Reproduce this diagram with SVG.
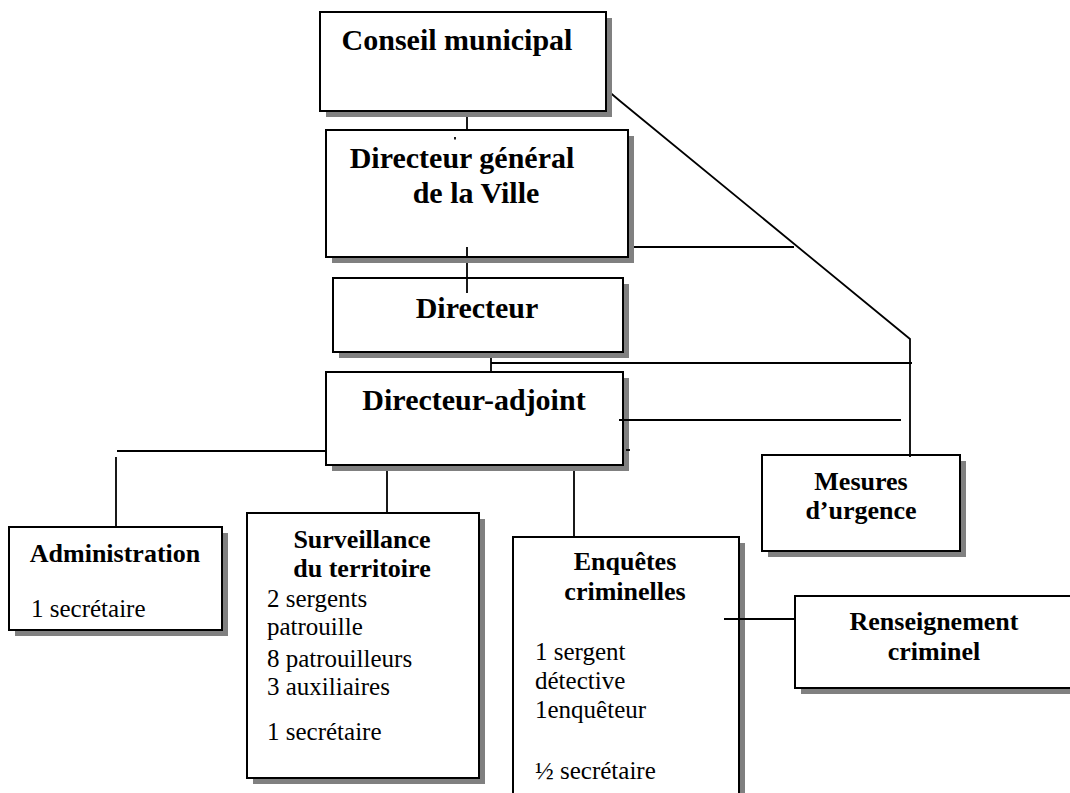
<svg xmlns="http://www.w3.org/2000/svg" width="1070" height="793" viewBox="0 0 1070 793">
<style>
.sh{fill:#808080;stroke:none}
.bx{fill:#fff;stroke:#000;stroke-width:2}
.t1{font-family:"Liberation Serif","Times New Roman",serif;font-weight:bold;font-size:30px;text-anchor:middle;fill:#000}
.t2{font-family:"Liberation Serif","Times New Roman",serif;font-weight:bold;font-size:26px;text-anchor:middle;fill:#000}
.b{font-family:"Liberation Serif","Times New Roman",serif;font-size:25px;fill:#000}
.ln{stroke:#000;stroke-width:1.8;fill:none}
</style>
<rect width="1070" height="793" fill="#fff"/>
<g id="connectors">
<line class="ln" x1="467" y1="111" x2="467" y2="130"/>
<line class="ln" x1="467" y1="247" x2="467" y2="293"/>
<polyline class="ln" points="607,90 620,101 910,339 910,457"/>
<line class="ln" x1="628" y1="247" x2="794" y2="247"/>
<line class="ln" x1="491" y1="352" x2="491" y2="372"/>
<line class="ln" x1="491" y1="363" x2="912" y2="363"/>
<line class="ln" x1="117" y1="451" x2="327" y2="451"/>
<line class="ln" x1="116" y1="457" x2="116" y2="527"/>
<line class="ln" x1="387" y1="465" x2="387" y2="513"/>
<line class="ln" x1="574" y1="465" x2="574" y2="537"/>
</g>
<g id="conseil">
<rect class="sh" x="326" y="18" width="286" height="99"/>
<rect class="bx" x="320" y="12" width="286" height="99"/>
<text class="t1" x="457" y="50">Conseil municipal</text>
</g>
<g id="dg">
<rect class="sh" x="332" y="136" width="302" height="127"/>
<rect class="bx" x="326" y="130" width="302" height="127"/>
<line class="ln" x1="455" y1="137" x2="455" y2="139.5"/>
<line class="ln" x1="467" y1="247" x2="467" y2="257"/>
<text class="t1" x="462" y="168">Directeur général</text>
<text class="t1" x="476" y="203">de la Ville</text>
</g>
<g id="directeur">
<rect class="sh" x="339" y="284" width="290" height="74"/>
<rect class="bx" x="333" y="278" width="290" height="74"/>
<line class="ln" x1="467" y1="278" x2="467" y2="293"/>
<text class="t1" x="477" y="318">Directeur</text>
</g>
<g id="adjoint">
<rect class="sh" x="332" y="378" width="297" height="93"/>
<rect class="bx" x="326" y="372" width="297" height="93"/>
<line class="ln" x1="619" y1="420" x2="901" y2="420"/>
<line class="ln" x1="626" y1="450" x2="630" y2="450"/>
<text class="t1" x="474" y="410">Directeur-adjoint</text>
</g>
<g id="administration">
<rect class="sh" x="15" y="533" width="213" height="103"/>
<rect class="bx" x="9" y="527" width="213" height="103"/>
<text class="t2" x="115" y="562">Administration</text>
<text class="b" x="31" y="617">1 secrétaire</text>
</g>
<g id="surveillance">
<rect class="sh" x="253" y="519" width="232" height="265"/>
<rect class="bx" x="247" y="513" width="232" height="265"/>
<text class="t2" x="362" y="548">Surveillance</text>
<text class="t2" x="362" y="577">du territoire</text>
<text class="b" x="267" y="607">2 sergents</text>
<text class="b" x="267" y="635">patrouille</text>
<text class="b" x="267" y="667">8 patrouilleurs</text>
<text class="b" x="267" y="695">3 auxiliaires</text>
<text class="b" x="267" y="740">1 secrétaire</text>
</g>
<g id="enquetes">
<rect class="sh" x="519" y="543" width="226" height="270"/>
<rect class="bx" x="513" y="537" width="226" height="270"/>
<text class="t2" x="625" y="570">Enquêtes</text>
<text class="t2" x="625" y="600">criminelles</text>
<text class="b" x="535" y="660">1 sergent</text>
<text class="b" x="535" y="689">détective</text>
<text class="b" x="535" y="718">1enquêteur</text>
<text class="b" x="535" y="779">½ secrétaire</text>
</g>
<g id="mesures">
<rect class="sh" x="768" y="461" width="198" height="96"/>
<rect class="bx" x="762" y="455" width="198" height="96"/>
<line class="ln" x1="910" y1="455" x2="910" y2="457"/>
<text class="t2" x="861" y="490">Mesures</text>
<text class="t2" x="861" y="519">d’urgence</text>
</g>
<g id="renseignement">
<rect class="sh" x="801" y="602" width="285" height="92"/>
<rect class="bx" x="795" y="596" width="285" height="92"/>
<text class="t2" x="934" y="630">Renseignement</text>
<text class="t2" x="934" y="660">criminel</text>
</g>
<line class="ln" x1="724" y1="619" x2="795" y2="619"/>
</svg>
